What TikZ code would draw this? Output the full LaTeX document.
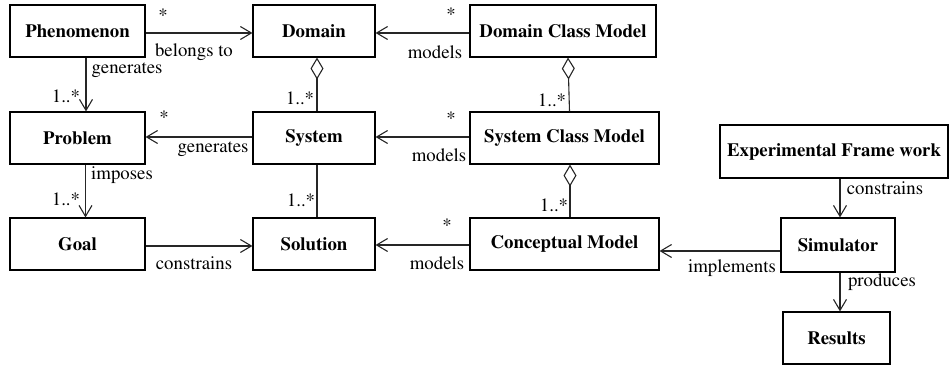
\documentclass[tikz,border=0pt]{standalone}
\usepackage[T1]{fontenc}
\renewcommand{\rmdefault}{ptm}
\usetikzlibrary{arrows.meta}
\begin{document}
\begin{tikzpicture}[x=0.5pt,y=-0.5pt,
  box/.style={draw=black, line width=0.55pt, rectangle, inner sep=0pt, minimum height=26pt, font=\rmfamily\fontsize{9.4}{11}\selectfont\bfseries},
  lbl/.style={inner sep=0pt, font=\rmfamily\fontsize{9.4}{11}\selectfont},
  conn/.style={draw=black!85, line width=0.55pt},
  arr/.style={conn, -{Straight Barb[length=5.5pt,width=6.5pt,line width=0.55pt]}},
  agg/.style={conn, {Diamond[open,length=11pt,width=6.5pt,line width=0.55pt]}-}]
\useasboundingbox (0,0) rectangle (949,367);
% boxes
\node[box, minimum width=67.5pt] (phen) at (77.5,31) {Phenomenon};
\node[box, minimum width=61pt] (dom) at (314,31) {Domain};
\node[box, minimum width=93pt] (dcm) at (563,31) {Domain Class Model};
\node[box, minimum width=67.5pt] (prob) at (77.5,138) {Problem};
\node[box, minimum width=61pt] (sys) at (314,138) {System};
\node[box, minimum width=94.5pt] (scm) at (564.5,138) {System Class Model};
\node[box, minimum width=67.5pt] (goal) at (77.5,244) {Goal};
\node[box, minimum width=61pt] (sol) at (314,244) {Solution};
\node[box, minimum width=94.5pt] (cm) at (564.5,244) {Conceptual Model};
\node[box, minimum width=114pt, minimum height=26.5pt] (ef) at (834,151.5) {Experimental Frame work};
\node[box, minimum width=57pt, minimum height=27pt] (sim) at (838,245) {Simulator};
\node[box, minimum width=53.5pt] (res) at (836.5,338) {Results};
% connectors
\draw[arr] ([yshift=-1pt]phen.east) -- ([yshift=-1pt]dom.west);
\draw[arr] ([yshift=-1pt]dcm.west) -- ([yshift=-1pt]dom.east);
\draw[arr] ([xshift=4.25pt]phen.south) -- ([xshift=4.25pt]prob.north);
\draw[arr] ([xshift=4pt]prob.south) -- ([xshift=4pt]goal.north);
\draw[agg] ([xshift=1.5pt]dom.south) -- ([xshift=1.5pt]sys.north);
\draw[agg] ([xshift=2.5pt]dcm.south) -- ([xshift=2.5pt]scm.north);
\draw[agg] ([xshift=2.75pt]scm.south) -- ([xshift=2.75pt]cm.north);
\draw[conn] ([xshift=1.5pt]sys.south) -- ([xshift=1.5pt]sol.north);
\draw[arr] ([yshift=0.5pt]sys.west) -- ([yshift=0.5pt]prob.east);
\draw[arr] ([yshift=0.5pt]scm.west) -- ([yshift=0.5pt]sys.east);
\draw[arr] ([yshift=-1pt]goal.east) -- ([yshift=-1pt]sol.west);
\draw[arr] ([yshift=-0.5pt]cm.west) -- ([yshift=-0.5pt]sol.east);
\draw[arr] ([yshift=-3pt]sim.west) -- ([yshift=-3.5pt]cm.east);
\draw[arr] ([xshift=3pt]ef.south) -- ([xshift=1pt]sim.north);
\draw[arr] ([xshift=1pt]sim.south) -- ([xshift=1.75pt]res.north);
% labels
\node[lbl] (l1) at (163,15) {*};
\node[lbl] (l2) at (194,52) {belongs to};
\node[lbl] (l3) at (127,70) {generates};
\node[lbl] (l4) at (66,96) {1..*};
\node[lbl] (l5) at (164,117) {*};
\node[lbl] (l6) at (213,149) {generates};
\node[lbl] (l7) at (122,175) {imposes};
\node[lbl] (l8) at (66,199) {1..*};
\node[lbl] (l9) at (451,14) {*};
\node[lbl] (l10) at (435,52) {models};
\node[lbl] (l11) at (300,98) {1..*};
\node[lbl] (l12) at (552,100) {1..*};
\node[lbl] (l13) at (451,118) {*};
\node[lbl] (l14) at (439,155) {models};
\node[lbl] (l15) at (301,200) {1..*};
\node[lbl] (l16) at (554,205) {1..*};
\node[lbl] (l17) at (447,225) {*};
\node[lbl] (l18) at (437,263) {models};
\node[lbl] (l19) at (194,263) {constrains};
\node[lbl] (l20) at (732,268) {implements};
\node[lbl] (l21) at (885,188) {constrains};
\node[lbl] (l22) at (882,282) {produces};
\end{tikzpicture}
\end{document}
